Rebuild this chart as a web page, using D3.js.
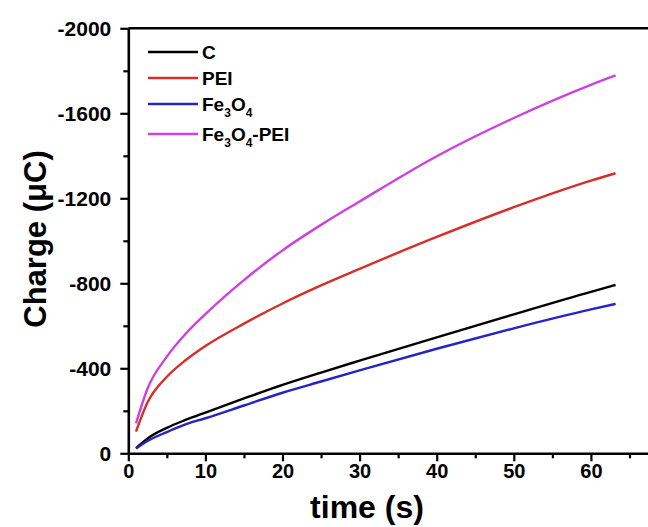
<!DOCTYPE html>
<html>
<head>
<meta charset="utf-8">
<script src="https://cdn.jsdelivr.net/npm/d3@7"></script>
<style>
  body { margin: 0; background: #fff; }
  text { font-family: "Liberation Sans", Arial, sans-serif; font-weight: bold; }
</style>
</head>
<body>
<script>
// time points (s) and charge (uC)
var time = [1, 2.5, 5, 7.5, 10, 15, 20, 25, 30, 40, 50, 60, 63.2]
var chargeC = [-24, -70, -120, -158, -192, -258, -322, -380, -436, -546, -654, -760, -792]
var chargePEI = [-102, -240, -360, -440, -505, -610, -705, -790, -868, -1018, -1158, -1283, -1318]
var chargeFe3O4 = [-22, -58, -100, -137, -165, -225, -285, -338, -390, -492, -588, -677, -703]
var chargeFe3O4PEI = [-141, -305, -455, -565, -655, -815, -955, -1075, -1185, -1398, -1578, -1734, -1778]

var xTicks = [0, 10, 20, 30, 40, 50, 60]
var yTicks = [0, -400, -800, -1200, -1600, -2000]

var series = [
  {name: "C", values: chargeC, color: "#000000"},
  {name: "PEI", values: chargePEI, color: "#d4302a"},
  {name: "Fe3O4", values: chargeFe3O4, color: "#2424c4"},
  {name: "Fe3O4-PEI", values: chargeFe3O4PEI, color: "#cc42dc"}
]

var width = 648
var height = 527

var svg = d3.select("body")
  .append("svg")
  .attr("width", width)
  .attr("height", height)

var x = d3.scaleLinear().domain([0, 68]).range([128.3, 652.6])
var y = d3.scaleLinear().domain([0, -2000]).range([453.3, 28.3])

// minor ticks
svg.append("g")
  .attr("transform", "translate(0," + y(0) + ")")
  .call(d3.axisBottom(x).tickValues(d3.range(5, 70, 10)).tickSize(5).tickFormat(""))
  .call(function (g) { g.select(".domain").remove() })
  .selectAll("line").attr("stroke-width", 2.2)

svg.append("g")
  .attr("transform", "translate(" + x(0) + ",0)")
  .call(d3.axisLeft(y).tickValues(d3.range(-200, -2000, -400)).tickSize(5).tickFormat(""))
  .call(function (g) { g.select(".domain").remove() })
  .selectAll("line").attr("stroke-width", 2.2)

// main axes
var xAxis = svg.append("g")
  .attr("transform", "translate(0," + y(0) + ")")
  .call(d3.axisBottom(x).tickValues(xTicks).tickSize(8).tickSizeOuter(0).tickPadding(3))
xAxis.select(".domain").attr("stroke-width", 2.6)
xAxis.selectAll("line").attr("stroke-width", 2.2)
xAxis.selectAll("text").attr("font-size", 20).attr("fill", "#000")

var yAxis = svg.append("g")
  .attr("transform", "translate(" + x(0) + ",0)")
  .call(d3.axisLeft(y).tickValues(yTicks).tickSize(8).tickSizeOuter(0).tickPadding(9)
    .tickFormat(function (d) { return String(d) }))
yAxis.select(".domain").attr("stroke-width", 2.6)
yAxis.selectAll("line").attr("stroke-width", 2.2)
yAxis.selectAll("text").attr("font-size", 21).attr("fill", "#000")

// top frame line
svg.append("line")
  .attr("x1", x(0)).attr("x2", width)
  .attr("y1", y(-2000)).attr("y2", y(-2000))
  .attr("stroke", "#000").attr("stroke-width", 2.6)

var line = d3.line()
  .x(function (d) { return x(d[0]) })
  .y(function (d) { return y(d[1]) })
  .curve(d3.curveMonotoneX)

svg.selectAll(".curve")
  .data(series)
  .enter()
  .append("path")
  .attr("class", "curve")
  .attr("fill", "none")
  .attr("stroke", function (d) { return d.color })
  .attr("stroke-width", 2.4)
  .attr("d", function (d) {
    return line(time.map(function (t, i) { return [t, d.values[i]] }))
  })

// legend
var legend = svg.append("g")
series.forEach(function (s, i) {
  var ly = 52 + i * 26 + (i === 3 ? 4 : 0)
  legend.append("line")
    .attr("x1", 148).attr("x2", 198)
    .attr("y1", ly).attr("y2", ly)
    .attr("stroke", s.color).attr("stroke-width", 2.4)
  var t = legend.append("text")
    .attr("x", 202).attr("y", ly + 7)
    .attr("font-size", 19)
  if (s.name.indexOf("Fe3O4") === 0) {
    t.append("tspan").text("Fe")
    t.append("tspan").attr("font-size", 12).attr("dy", 6).text("3")
    t.append("tspan").attr("dy", -6).text("O")
    t.append("tspan").attr("font-size", 12).attr("dy", 6).text("4")
    t.append("tspan").attr("dy", -6).text(s.name.slice(5))
  } else {
    t.text(s.name)
  }
})

// axis titles
svg.append("text")
  .attr("x", 367).attr("y", 518)
  .attr("text-anchor", "middle")
  .attr("font-size", 32)
  .text("time (s)")

svg.append("text")
  .attr("transform", "translate(46,239) rotate(-90)")
  .attr("text-anchor", "middle")
  .attr("font-size", 31)
  .text("Charge (μC)")
</script>
</body>
</html>
